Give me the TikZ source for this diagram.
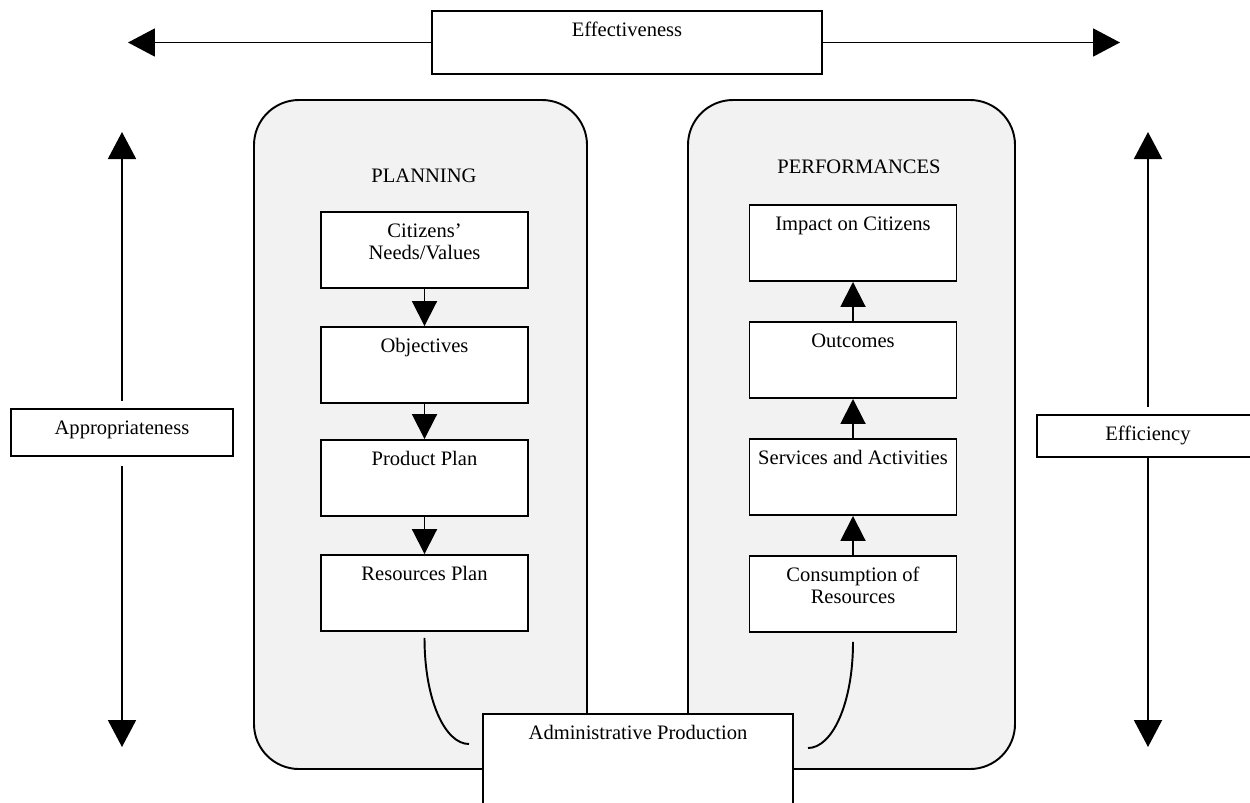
\documentclass[tikz,border=0pt]{standalone}
\usepackage{fontspec}
\setmainfont{Liberation Serif}
\usetikzlibrary{arrows.meta}
\newlength{\unitpx}
\setlength{\unitpx}{0.02cm}
\definecolor{panelgray}{HTML}{F2F2F2}
\tikzset{
  box/.style={draw, fill=white, line width=1.1pt, inner sep=0pt},
  panel/.style={draw, fill=panelgray, line width=1.1pt, rounded corners=45\unitpx, inner sep=0pt},
  title/.style={anchor=north, align=center, inner sep=0pt, yshift=-12\unitpx},
  stagebox/.style={box, minimum width=207\unitpx, minimum height=76\unitpx},
  bigtip/.style={-{Triangle[width=0.56cm,length=0.54cm]}, line width=1.1pt},
  smalltip/.style={-{Triangle[width=0.5cm,length=0.5cm]}, line width=1.1pt},
}

\begin{document}
\begin{tikzpicture}[x=0.02cm, y=-0.02cm, font=\fontsize{11.7}{12.5}\selectfont]
\clip (0,0) rectangle (1250,802);

% the two panels
\node[panel, minimum width=333\unitpx, minimum height=669\unitpx] (planning) at (420.5,434.5) {};
\node[panel, minimum width=327\unitpx, minimum height=669\unitpx] (perform) at (851.5,434.5) {};
\node (plantitle) at (424,176) {PLANNING};
\node (perftitle) at (859,167) {PERFORMANCES};

% planning side
\node[stagebox, label={[title]north:{Citizens'\\Needs/Values}}] (needs) at (424.5,250) {};
\node[stagebox, label={[title]north:Objectives}] (object) at (424.5,365) {};
\node[stagebox, label={[title]north:Product Plan}] (prodplan) at (424.5,478) {};
\node[stagebox, label={[title]north:Resources Plan}] (resplan) at (424.5,593) {};
\draw[smalltip] (needs) -- (object);
\draw[smalltip] (object) -- (prodplan);
\draw[smalltip] (prodplan) -- (resplan);

% performances side
\node[stagebox, label={[title]north:Impact on Citizens}] (impact) at (853,243) {};
\node[stagebox, label={[title]north:Outcomes}] (outcome) at (853,360) {};
\node[stagebox, label={[title]north:Services and Activities}] (service) at (853,477) {};
\node[stagebox, label={[title]north:{Consumption of\\Resources}}] (consum) at (853,594) {};
\draw[smalltip] (consum) -- (service);
\draw[smalltip] (service) -- (outcome);
\draw[smalltip] (outcome) -- (impact);

% administrative production and its links
\coordinate (leftend) at (469,744);
\coordinate (rightend) at (808,748);
\draw[line width=1.1pt] ([yshift=-6\unitpx]resplan.south) .. controls +(0,62) and +(-24,0) .. (leftend);
\draw[line width=1.1pt] ([yshift=-9\unitpx]consum.south) .. controls +(0,62) and +(24,0) .. (rightend);
\node[box, minimum width=310\unitpx, minimum height=90\unitpx,
  label={[title]north:Administrative Production}] (admin) at (638,759) {};

% effectiveness
\node[box, minimum width=390\unitpx, minimum height=63\unitpx,
  label={[title]north:Effectiveness}] (effect) at (627,42.5) {};
\coordinate (efleft) at (128,42.5);
\coordinate (efright) at (1120,42.5);
\draw[bigtip] (effect.west) -- (efleft);
\draw[bigtip] (effect.east) -- (efright);

% appropriateness
\node[box, minimum width=222\unitpx, minimum height=47\unitpx,
  label={[title]north:Appropriateness}] (approp) at (122,432.5) {};
\coordinate (aptop) at (122,132);
\coordinate (apbot) at (122,747);
\draw[bigtip] ([yshift=7\unitpx]approp.north) -- (aptop);
\draw[bigtip] ([yshift=-9\unitpx]approp.south) -- (apbot);

% efficiency
\node[box, minimum width=222\unitpx, minimum height=42\unitpx,
  label={[title]north:Efficiency}] (effic) at (1148,436) {};
\coordinate (eftop) at (1148,132);
\coordinate (efbot) at (1148,747);
\draw[bigtip] ([yshift=7\unitpx]effic.north) -- (eftop);
\draw[bigtip] (effic.south) -- (efbot);
\end{tikzpicture}
\end{document}
